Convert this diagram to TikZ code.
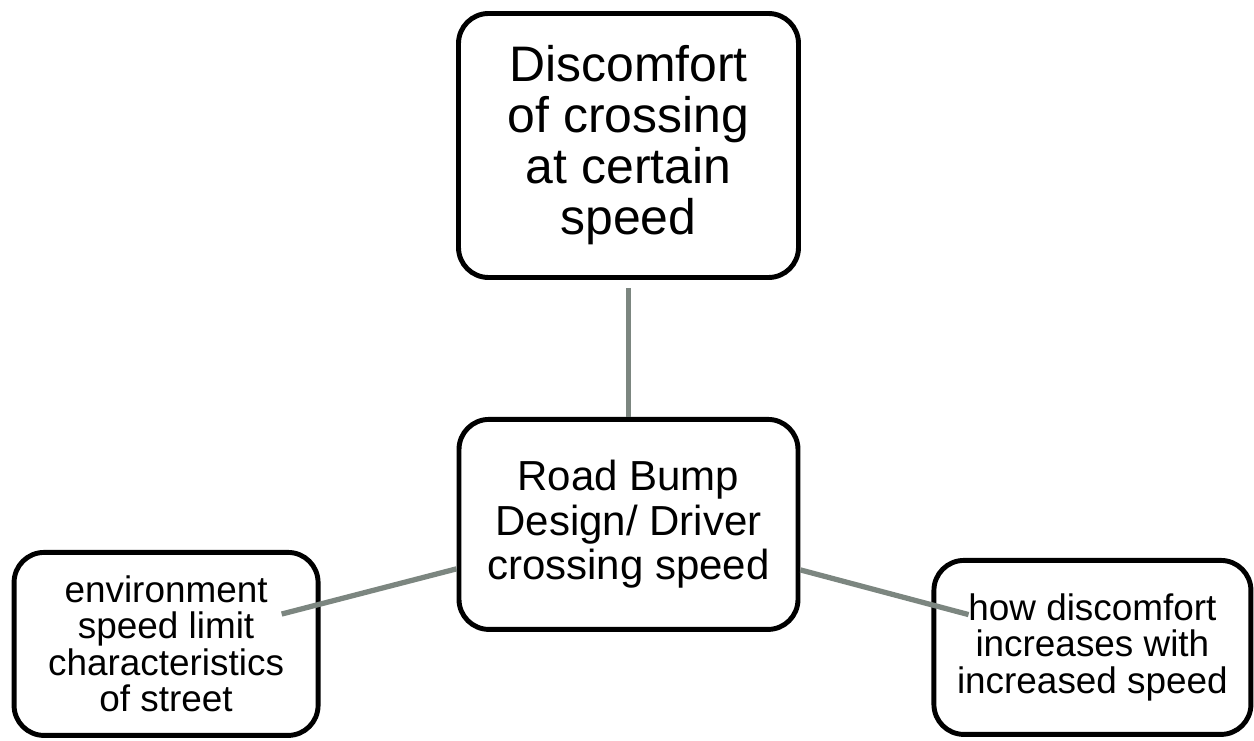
\documentclass[tikz,border=0pt]{standalone}
\usepackage{fontspec}
\setmainfont{Liberation Sans}
\usepackage{tikz}
\usetikzlibrary{positioning,calc}
\definecolor{linkgray}{RGB}{124,134,128}

\begin{document}
\begin{tikzpicture}[
    box/.style={rectangle, draw=black, fill=white, line width=2.8pt, rounded corners=0.6cm, inner sep=0pt, align=center},
    bigbox/.style={box, minimum width=6.8cm, minimum height=5.28cm, font=\fontsize{28.4}{29}\selectfont},
    hubbox/.style={box, minimum width=6.78cm, minimum height=4.2cm, font=\fontsize{23.9}{25.3}\selectfont},
    smallbox/.style={box, minimum height=3.6cm, font=\fontsize{21}{20.8}\selectfont},
    link/.style={draw=linkgray, line width=3pt}
]
    \useasboundingbox (0,0) rectangle (25.08,14.8);

    \node[bigbox] (discomfort) at (12.57,11.89) {Discomfort\\of crossing\\at certain\\speed};
    \node[hubbox, below=2.74cm of discomfort] (design) {Road Bump\\Design/ Driver\\crossing speed};
    \node[smallbox, minimum width=6.08cm, minimum height=3.66cm, left=2.72cm of design, yshift=-2.39cm] (environment) {environment\\speed limit\\characteristics\\of street};
    \node[smallbox, minimum width=6.34cm, minimum height=3.48cm, right=2.62cm of design, yshift=-2.46cm] (increase) {how discomfort\\increases with\\increased speed};

    \draw[link, shorten >=0.16cm] (design) -- (discomfort);
    \draw[link] (design) -- ($(design)!0.75!(environment)$);
    \draw[link] (design) -- ($(design)!0.733!(increase)$);
\end{tikzpicture}
\end{document}
